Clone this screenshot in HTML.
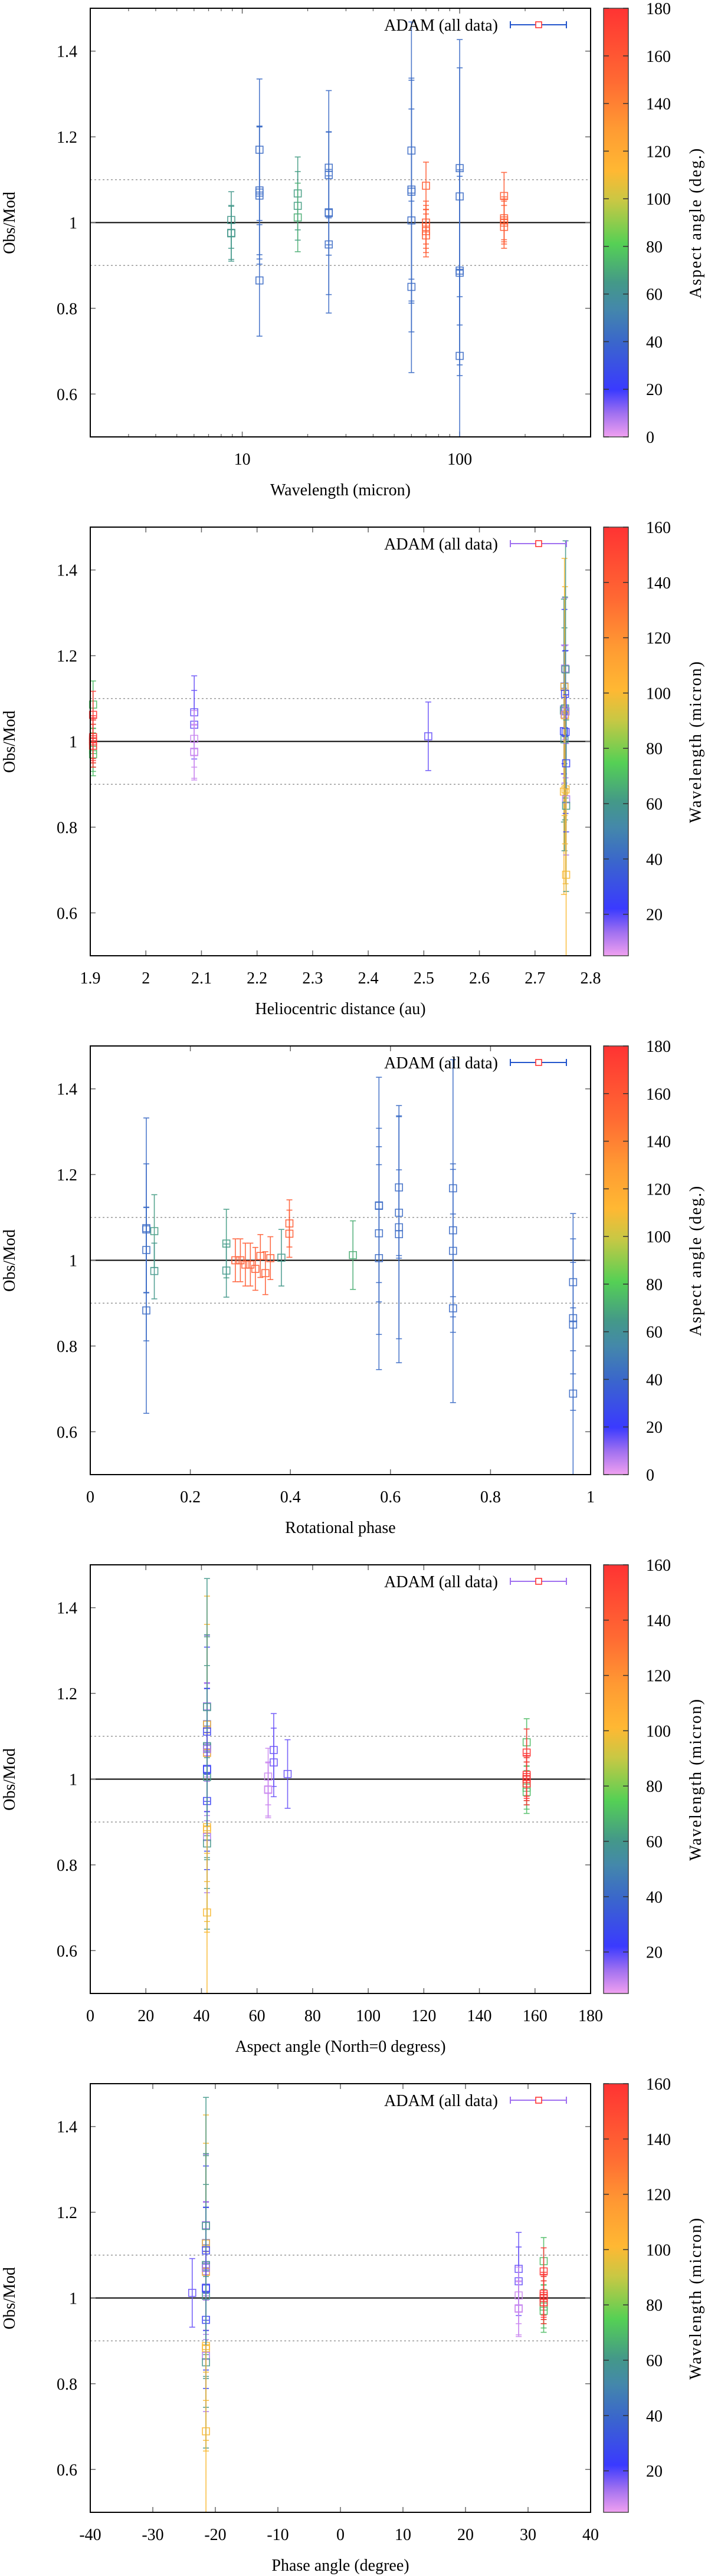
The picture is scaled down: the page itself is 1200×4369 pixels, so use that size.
<!DOCTYPE html>
<html><head><meta charset="utf-8"><title>ADAM Obs/Mod plots</title>
<style>
html,body{margin:0;padding:0;background:#fff;}
svg{display:block;font-family:"Liberation Serif","DejaVu Serif",serif;}
</style></head>
<body>
<svg id="fig" xmlns="http://www.w3.org/2000/svg" width="1200" height="4369" viewBox="0 0 1200 4369">
<defs>
<linearGradient id="pal" x1="0" y1="1" x2="0" y2="0">
<stop offset="0" stop-color="#f0a0f0"/>
<stop offset="0.055" stop-color="#a070f0"/>
<stop offset="0.11" stop-color="#3a3aff"/>
<stop offset="0.22" stop-color="#3a66cc"/>
<stop offset="0.3" stop-color="#4488aa"/>
<stop offset="0.36" stop-color="#449988"/>
<stop offset="0.45" stop-color="#55d055"/>
<stop offset="0.55" stop-color="#c8c844"/>
<stop offset="0.62" stop-color="#ffb833"/>
<stop offset="0.72" stop-color="#ff9a33"/>
<stop offset="0.83" stop-color="#ff6a33"/>
<stop offset="1" stop-color="#ff3333"/>
</linearGradient>
</defs>
</svg>
<script>
// ---- data: one entry per observation ----
const obsRatio   = [1.075,1.024,1.072,0.883, 1.063,1.128,1.005,1.127, 1.17,1.111,1.077,1.061, 1.07,1.022,1.168,0.888, 0.865,0.949,0.85,0.689,
                    1.068,0.975,1.039,0.976,1.006,1.012,
                    1.0,0.99,0.98,0.97,1.086, 1.0,0.99,1.01,1.005,1.062];
const obsErr     = [0.15,0.10,0.26,0.24, 0.16,0.18,0.26,0.30, 0.165,0.10,0.26,0.30, 0.155,0.19,0.30,0.22, 0.13,0.16,0.20,0.20,
                    0.085,0.065,0.08,0.062,0.066,0.08,
                    0.05,0.05,0.05,0.05,0.055, 0.05,0.05,0.05,0.05,0.055];
const wavelength = [12,25,60,100, 12,25,60,100, 12,25,60,100, 12,25,60,100, 12,25,60,100,
                    18,8.9,18,8.9,8.9,18,
                    70,70,70,70,70, 160,160,160,160,160];
const helioDist  = [2.752,2.752,2.752,2.752, 2.753,2.753,2.753,2.753, 2.754,2.754,2.754,2.754, 2.755,2.755,2.755,2.755, 2.756,2.756,2.756,2.756,
                    2.087,2.087,2.087,2.087,2.087,2.508,
                    1.905,1.905,1.905,1.905,1.905, 1.905,1.905,1.905,1.905,1.905];
const aspectAngle= [42,42,42,42, 42,42,42,42, 42,42,42,42, 42,42,42,42, 42,42,42,42,
                    66,64,66,64,64,71,
                    157,157,157,157,157, 157,157,157,157,157];
const rotPhase   = [0.112,0.112,0.112,0.112, 0.577,0.577,0.577,0.577, 0.617,0.617,0.617,0.617, 0.725,0.725,0.725,0.725, 0.965,0.965,0.965,0.965,
                    0.128,0.128,0.272,0.272,0.382,0.525,
                    0.29,0.31,0.33,0.35,0.398, 0.30,0.32,0.34,0.36,0.398];
const phaseAngle = [-21.5,-21.5,-21.5,-21.5, -21.5,-21.5,-21.5,-21.5, -21.5,-21.5,-21.5,-21.5, -21.5,-21.5,-21.5,-21.5, -21.5,-21.5,-21.5,-21.5,
                    28.5,28.5,28.5,28.5,28.5,-23.7,
                    32.5,32.5,32.5,32.5,32.5, 32.5,32.5,32.5,32.5,32.5];
const yTicks = [0.6,0.8,1,1.2,1.4];
const yTickLabels = ["0.6","0.8","1","1.2","1.4"];
const aspectCbTicks = [0,20,40,60,80,100,120,140,160,180];
const waveCbTicks = [20,40,60,80,100,120,140,160];
const xTicksHelio = [1.9,2,2.1,2.2,2.3,2.4,2.5,2.6,2.7,2.8];
const xTicksPhase = [0,0.2,0.4,0.6,0.8,1];
const xTicksAspect = [0,20,40,60,80,100,120,140,160,180];
const xTicksPhaseAng = [-40,-30,-20,-10,0,10,20,30,40];
const xTicksWave = [10,100];

const NS="http://www.w3.org/2000/svg";
const svg=document.getElementById('fig');
const L=153,R=1001,T=14,B=741,PITCH=880,CBL=1023,CBR=1065;
const palStops=[[0,[240,160,240]],[0.055,[160,112,240]],[0.11,[58,58,255]],[0.22,[58,102,204]],[0.3,[68,136,170]],[0.36,[68,153,136]],[0.45,[85,208,85]],[0.55,[200,200,68]],[0.62,[255,184,51]],[0.72,[255,154,51]],[0.83,[255,106,51]],[1,[255,51,51]]];
function pal(t){t=Math.max(0,Math.min(1,t));for(let i=1;i<palStops.length;i++){if(t<=palStops[i][0]){const a=palStops[i-1],b=palStops[i];const f=(t-a[0])/(b[0]-a[0]);const c=a[1].map((v,k)=>Math.round(v+(b[1][k]-v)*f));return `rgb(${c[0]},${c[1]},${c[2]})`;}}return 'rgb(255,51,51)';}
function mk(tag,attrs,parent){const e=document.createElementNS(NS,tag);for(const k in attrs)e.setAttribute(k,attrs[k]);(parent||svg).appendChild(e);return e;}

function panel(i,cfg){
  const oy=i*PITCH;
  const g=mk('g',{});
  
  
  const ys=v=>oy+T+(1.5-v)*(B-T);
  const xs=cfg.log?(v=>L+(Math.log10(v)-Math.log10(cfg.xmin))/(Math.log10(cfg.xmax)-Math.log10(cfg.xmin))*(R-L))
                   :(v=>L+(v-cfg.xmin)/(cfg.xmax-cfg.xmin)*(R-L));
  // reference lines
  let e=mk('line',{x1:L,x2:R,y1:ys(1.1),y2:ys(1.1),stroke:'#999','stroke-width':1.5,'stroke-dasharray':'3,4'},g);
  
  
  e=mk('line',{x1:L,x2:R,y1:ys(0.9),y2:ys(0.9),stroke:'#999','stroke-width':1.5,'stroke-dasharray':'3,4'},g);
  
  
  e=mk('line',{x1:L,x2:R,y1:ys(1),y2:ys(1),stroke:'#000','stroke-width':2},g);
  
  
  // y ticks
  yTicks.forEach((v,k)=>{
    mk('line',{x1:L,x2:L+9,y1:ys(v),y2:ys(v),stroke:'#666','stroke-width':1.5},g);
    mk('line',{x1:R-9,x2:R,y1:ys(v),y2:ys(v),stroke:'#666','stroke-width':1.5},g);
    const t=mk('text',{x:131,y:ys(v)+10,'text-anchor':'end','font-size':28},g);
    t.textContent=yTickLabels[k];
    
    
  });
  // x ticks
  if(cfg.log){
    for(let d=1;d<=100;d*=10)for(let m=2;m<=9;m++){const v=m*d;if(v>cfg.xmin&&v<cfg.xmax){mk('line',{x1:xs(v),x2:xs(v),y1:oy+B,y2:oy+B-5,stroke:'#666','stroke-width':1.3},g);mk('line',{x1:xs(v),x2:xs(v),y1:oy+T,y2:oy+T+5,stroke:'#666','stroke-width':1.3},g);}}
  }
  cfg.xticks.forEach(v=>{
    mk('line',{x1:xs(v),x2:xs(v),y1:oy+B,y2:oy+B-9,stroke:'#666','stroke-width':1.5},g);
    mk('line',{x1:xs(v),x2:xs(v),y1:oy+T,y2:oy+T+9,stroke:'#666','stroke-width':1.5},g);
    const t=mk('text',{x:xs(v),y:oy+788,'text-anchor':'middle','font-size':28},g);
    t.textContent=String(v);
    
    
  });
  // data
  const cv=cfg.cvals, xv=cfg.xvals;
  for(let k=0;k<obsRatio.length;k++){
    const col=pal((cv[k]-cfg.cmin)/(cfg.cmax-cfg.cmin));
    const x=xs(xv[k]);
    const y0=Math.min(1.5,obsRatio[k]+obsErr[k]), y1=Math.max(0.5,obsRatio[k]-obsErr[k]);
    const eb=mk('g',{stroke:col,'stroke-width':1.6,fill:'none',opacity:0.9},g);
    
    
    mk('line',{x1:x,x2:x,y1:ys(y0),y2:ys(y1)},eb);
    if(obsRatio[k]+obsErr[k]<=1.5)mk('line',{x1:x-5,x2:x+5,y1:ys(y0),y2:ys(y0)},eb);
    if(obsRatio[k]-obsErr[k]>=0.5)mk('line',{x1:x-5,x2:x+5,y1:ys(y1),y2:ys(y1)},eb);
    mk('rect',{x:x-6,y:ys(obsRatio[k])-6,width:12,height:12},eb);
  }
  // frame
  e=mk('rect',{x:L,y:oy+T,width:R-L,height:B-T,fill:'none',stroke:'#000','stroke-width':2},g);
  
  
  // legend
  const lg=mk('g',{},g);
  
  
  const lt=mk('text',{x:844,y:oy+52,'text-anchor':'end','font-size':28},lg);
  lt.textContent='ADAM (all data)';
  mk('line',{x1:865,x2:960,y1:oy+42,y2:oy+42,stroke:cfg.legCol,'stroke-width':2},lg);
  mk('line',{x1:865,x2:865,y1:oy+36,y2:oy+48,stroke:cfg.legCol,'stroke-width':2},lg);
  mk('line',{x1:960,x2:960,y1:oy+36,y2:oy+48,stroke:cfg.legCol,'stroke-width':2},lg);
  mk('rect',{x:908,y:oy+37,width:10,height:10,fill:'#fff',stroke:'#f33','stroke-width':1.6},lg);
  // axis titles
  let t=mk('text',{x:0,y:0,'text-anchor':'middle','font-size':28,transform:`translate(25,${oy+378}) rotate(-90)`},g);
  t.textContent='Obs/Mod';
  
  
  t=mk('text',{x:(L+R)/2,y:oy+840,'text-anchor':'middle','font-size':28},g);
  t.textContent=cfg.xtitle;
  
  
  // colorbar
  const cb=mk('g',{},g);
  
  
  mk('rect',{x:CBL,y:oy+T,width:CBR-CBL,height:B-T,fill:'url(#pal)',stroke:'#444','stroke-width':1.5},cb);
  const cy=v=>oy+B-(v-cfg.cmin)/(cfg.cmax-cfg.cmin)*(B-T);
  cfg.cticks.forEach(v=>{
    mk('line',{x1:CBL,x2:CBL+9,y1:cy(v),y2:cy(v),stroke:'#333','stroke-width':1.5},cb);
    mk('line',{x1:CBR-9,x2:CBR,y1:cy(v),y2:cy(v),stroke:'#333','stroke-width':1.5},cb);
    const c=mk('text',{x:1095,y:cy(v)+10,'font-size':28},cb);
    c.textContent=String(v);
    
    
  });
  t=mk('text',{x:0,y:0,'text-anchor':'middle','font-size':28,'letter-spacing':'2',transform:`translate(1188,${oy+378}) rotate(-90)`},g);
  t.textContent=cfg.ctitle;
  
  
}
const ASP={cvals:aspectAngle,cmin:0,cmax:180,cticks:aspectCbTicks,ctitle:'Aspect angle (deg.)',legCol:'#2255cc'};
const WAV={cvals:wavelength,cmin:5,cmax:160,cticks:waveCbTicks,ctitle:'Wavelength (micron)',legCol:'#a070f0'};
panel(0,Object.assign({id:'wavelength',log:true,xmin:2,xmax:400,xticks:xTicksWave,xvals:wavelength,xtitle:'Wavelength (micron)'},ASP));
panel(1,Object.assign({id:'heliocentric',xmin:1.9,xmax:2.8,xticks:xTicksHelio,xvals:helioDist,xtitle:'Heliocentric distance (au)'},WAV));
panel(2,Object.assign({id:'rotational-phase',xmin:0,xmax:1,xticks:xTicksPhase,xvals:rotPhase,xtitle:'Rotational phase'},ASP));
panel(3,Object.assign({id:'aspect-angle',xmin:0,xmax:180,xticks:xTicksAspect,xvals:aspectAngle,xtitle:'Aspect angle (North=0 degress)'},WAV));
panel(4,Object.assign({id:'phase-angle',xmin:-40,xmax:40,xticks:xTicksPhaseAng,xvals:phaseAngle,xtitle:'Phase angle (degree)'},WAV));
</script>
</body></html>
